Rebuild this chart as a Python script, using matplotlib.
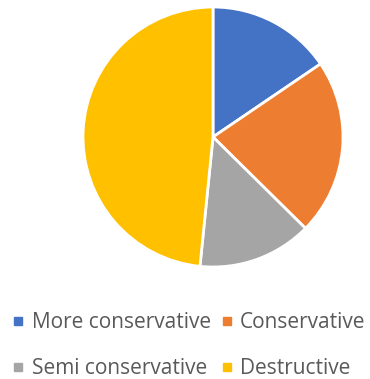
import matplotlib
matplotlib.use("Agg")
import matplotlib.pyplot as plt
from matplotlib.lines import Line2D

labels = ["More conservative", "Conservative", "Semi conservative", "Destructive"]
values = [15.5, 21.9, 14.2, 48.4]
colors = ["#4472c4", "#ed7d31", "#a5a5a5", "#ffc000"]

plt.rcParams["font.family"] = ["Open Sans", "DejaVu Sans"]

W, H = 370, 379
fig = plt.figure(figsize=(W / 100, H / 100), dpi=100)
# pie centre ~ (213,137) px, radius ~130 px
cx, cy, r = 213, 137, 130
ax = fig.add_axes([(cx - r) / W, (H - cy - r) / H, 2 * r / W, 2 * r / H])
ax.pie(values, colors=colors, startangle=90, counterclock=False, radius=1,
       wedgeprops=dict(edgecolor="white", linewidth=2))
ax.set_xlim(-1, 1)
ax.set_ylim(-1, 1)
ax.set_aspect("equal")
ax.axis("off")

# legend ordered row-wise: row1 = items 0,1 ; row2 = items 2,3
handles = [Line2D([], [], marker="s", ls="", color=c, markersize=5.5) for c in colors]
order = [0, 2, 1, 3]
leg = fig.legend([handles[i] for i in order], [labels[i] for i in order],
                 loc="upper left", bbox_to_anchor=(8 / W, 1 - 308 / H), ncol=2, frameon=False,
                 fontsize=15, handlelength=0.6, handletextpad=0.35, columnspacing=0.45,
                 labelspacing=1.2, borderaxespad=0.0, borderpad=0.2)
for t in leg.get_texts():
    t.set_color("#595959")

fig.savefig("out.png", dpi=100)
